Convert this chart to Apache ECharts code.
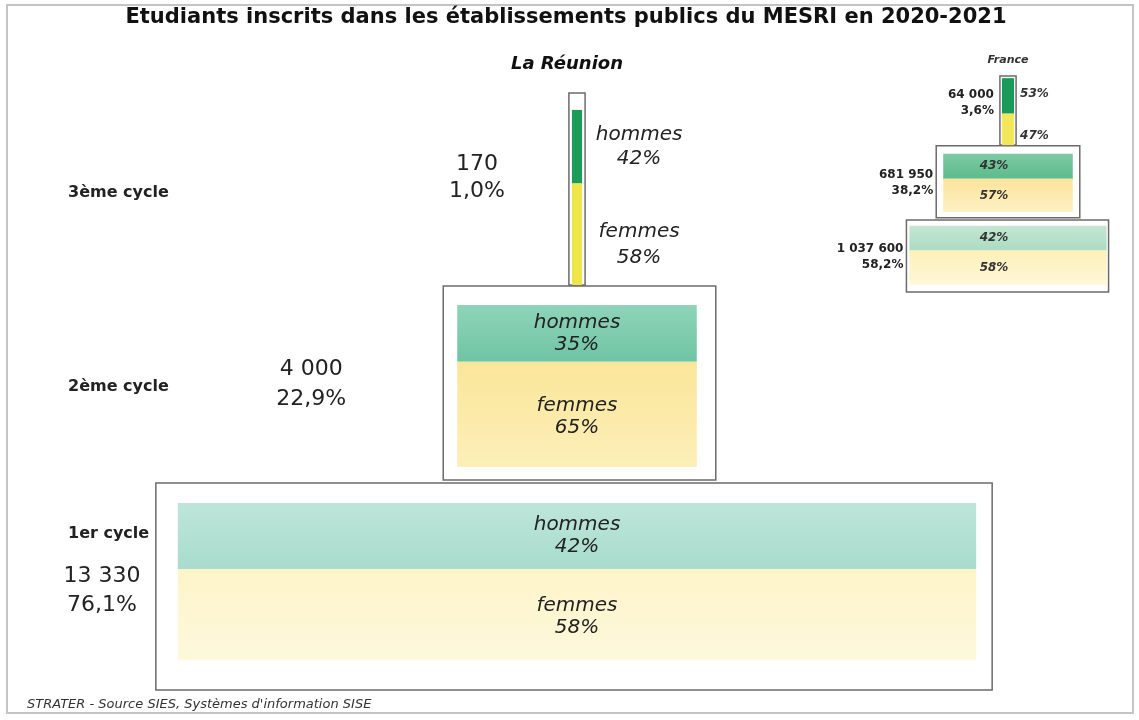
<!DOCTYPE html>
<html>
<head>
<meta charset="utf-8">
<title>Etudiants inscrits - La Réunion</title>
<script src="https://cdn.jsdelivr.net/npm/echarts@6/dist/echarts.min.js"></script>
<style>
    html, body { margin: 0; padding: 0; background: #fff; }
    #chart { width: 1139px; height: 720px; }
</style>
</head>
<body>
<div id="chart"></div>
<script type="text/javascript">
    // La Réunion (du 1er au 3ème cycle)
    var cycles = ['1er cycle', '2ème cycle', '3ème cycle'];
    var effectifs = [13330, 4000, 170];
    var parts = ['76,1%', '22,9%', '1,0%'];
    var hommes = [42, 35, 42];
    var femmes = [58, 65, 58];

    // France (encart)
    var effectifsFr = [1037600, 681950, 64000];
    var partsFr = ['58,2%', '38,2%', '3,6%'];
    var hommesFr = [42, 43, 53];
    var femmesFr = [58, 57, 47];

    var FONT = 'DejaVu Sans, sans-serif';

    function fmt(n) {
        return String(n).replace(/\B(?=(\d{3})+(?!\d))/g, ' ');
    }

    function grad(c1, c2) {
        return new echarts.graphic.LinearGradient(0, 0, 0, 1, [
            {offset: 0, color: c1},
            {offset: 1, color: c2}
        ]);
    }

    function txt(x, y, text, font, align, lh, color) {
        return {
            type: 'text',
            x: x,
            y: y,
            style: {
                text: text,
                font: font,
                fill: color || '#222',
                align: align || 'center',
                verticalAlign: 'middle',
                lineHeight: lh || 22
            }
        };
    }

    // geometry of each box (axis units on y, pixels for paddings)
    var cadres = [
        {frame: [0, 1.04], inner: [0.15, 0.94], pad: [22, 16]},
        {frame: [1.055, 2.03], inner: [1.12, 1.935], pad: [14, 19]},
        {frame: [2.035, 3], inner: [2.035, 2.915], pad: [3, 3]}
    ];
    var cadresFr = [
        {frame: [0, 1], inner: [0.1, 0.92], pad: [3, 2]},
        {frame: [1.03, 2.03], inner: [1.11, 1.92], pad: [7, 7]},
        {frame: [2.04, 3], inner: [2.04, 2.97], pad: [2, 2]}
    ];
    var couleursH = [grad('#bde6d9', '#a8dccc'), grad('#8fd4b9', '#6fc4a4'), '#1d9b58'];
    var couleursF = [grad('#fdf4c8', '#fef8dc'), grad('#fae69a', '#fcefb8'), '#efe548'];
    var couleursHFr = [grad('#c4e6d2', '#abdcc2'), grad('#7ccaa2', '#5cbb8c'), '#1a9a5a'];
    var couleursFFr = [grad('#fdf0b8', '#fef7d8'), grad('#fbe49c', '#fdf0c2'), '#f3e65a'];

    function boite(api, i, n, h, f, cadre, colH, colF) {
        var c = cadre[i];
        var tl = api.coord([-n / 2, c.inner[1]]);
        var br = api.coord([n / 2, c.inner[0]]);
        var ySplit = tl[1] + (br[1] - tl[1]) * h / (h + f);
        var fTop = api.coord([0, c.frame[1]])[1];
        var fBot = api.coord([0, c.frame[0]])[1];
        var g = {
            x0: tl[0], x1: br[0], yTop: tl[1], yBot: br[1], ySplit: ySplit,
            fx0: tl[0] - c.pad[0], fx1: br[0] + c.pad[1], fTop: fTop, fBot: fBot
        };
        g.shapes = [
            {
                type: 'rect',
                shape: {x: g.fx0, y: fTop, width: g.fx1 - g.fx0, height: fBot - fTop},
                style: {fill: '#fff', stroke: '#6b6b6b', lineWidth: 1.5}
            },
            {
                type: 'rect',
                shape: {x: tl[0], y: tl[1], width: br[0] - tl[0], height: ySplit - tl[1]},
                style: {fill: colH[i]}
            },
            {
                type: 'rect',
                shape: {x: tl[0], y: ySplit, width: br[0] - tl[0], height: br[1] - ySplit},
                style: {fill: colF[i]}
            }
        ];
        return g;
    }

    function renderReunion(params, api) {
        var i = api.value(0);
        var g = boite(api, i, effectifs[i], hommes[i], femmes[i], cadres, couleursH, couleursF);
        var kids = g.shapes;
        var fMid = (g.fTop + g.fBot) / 2;
        var hMid = (g.yTop + g.ySplit) / 2;
        var wMid = (g.ySplit + g.yBot) / 2;
        var cx = (g.x0 + g.x1) / 2;
        var bold = 'bold 16px ' + FONT;
        var big = '22px ' + FONT;
        var ital = 'italic 20px ' + FONT;
        var valeur = fmt(effectifs[i]) + '\n' + parts[i];
        if (i === 0) {
            kids.push(txt(68, hMid - 2, cycles[i], bold, 'left'));
            kids.push(txt(102, hMid + 55, valeur, big, 'center', 29));
        } else if (i === 1) {
            kids.push(txt(68, fMid + 4, cycles[i], bold, 'left'));
            kids.push(txt(g.fx0 - 132, fMid + 1, valeur, big, 'center', 30));
        } else {
            kids.push(txt(68, fMid + 4, cycles[i], bold, 'left'));
            kids.push(txt(g.x0 - 95, fMid - 11, valeur, big, 'center', 27));
        }
        if (i < 2) {
            kids.push(txt(cx, hMid, 'hommes\n' + hommes[i] + '%', ital, 'center', 22));
            kids.push(txt(cx, wMid + 2, 'femmes\n' + femmes[i] + '%', ital, 'center', 22));
        } else {
            kids.push(txt(g.x1 + 57, hMid, 'hommes\n' + hommes[i] + '%', ital, 'center', 24));
            kids.push(txt(g.x1 + 57, wMid + 11, 'femmes\n' + femmes[i] + '%', ital, 'center', 26));
        }
        return {type: 'group', children: kids};
    }

    function renderFrance(params, api) {
        var i = api.value(0);
        var g = boite(api, i, effectifsFr[i], hommesFr[i], femmesFr[i], cadresFr, couleursHFr, couleursFFr);
        var kids = g.shapes;
        var hMid = (g.yTop + g.ySplit) / 2;
        var wMid = (g.ySplit + g.yBot) / 2;
        var cx = (g.x0 + g.x1) / 2;
        var b = 'bold 12px ' + FONT;
        var bi = 'italic bold 12px ' + FONT;
        var valeur = fmt(effectifsFr[i]) + '\n' + partsFr[i];
        if (i < 2) {
            kids.push(txt(g.fx0 - 3, (g.fTop + g.fBot) / 2 + 1, valeur, b, 'right', 16));
            kids.push(txt(cx - 14, hMid, hommesFr[i] + '%', bi, 'center', 14, '#333'));
            kids.push(txt(cx - 14, wMid, femmesFr[i] + '%', bi, 'center', 14, '#333'));
        } else {
            kids.push(txt(g.fx0 - 6, (g.fTop + g.fBot) / 2 - 8, valeur, b, 'right', 16));
            kids.push(txt(g.x1 + 6, hMid - 2, hommesFr[i] + '%', bi, 'left', 14, '#333'));
            kids.push(txt(g.x1 + 6, wMid + 6, femmesFr[i] + '%', bi, 'left', 14, '#333'));
            kids.push(txt(cx, g.fTop - 16, 'France', 'italic bold 11px ' + FONT, 'center', 14, '#333'));
        }
        return {type: 'group', children: kids};
    }

    var myChart = echarts.init(document.getElementById('chart'), null, {renderer: 'canvas'});

    var option = {
        animation: false,
        backgroundColor: '#fff',
        grid: [
            {left: 38, width: 1078, top: 93, height: 597},
            {left: 894, width: 228, top: 76, height: 216}
        ],
        xAxis: [
            {type: 'value', gridIndex: 0, min: -9000, max: 9000, show: false},
            {type: 'value', gridIndex: 1, min: -600000, max: 600000, show: false}
        ],
        yAxis: [
            {type: 'value', gridIndex: 0, min: 0, max: 3, show: false},
            {type: 'value', gridIndex: 1, min: 0, max: 3, show: false}
        ],
        graphic: [
            {
                type: 'rect', z: -1, silent: true,
                shape: {x: 7, y: 5, width: 1126, height: 708},
                style: {fill: 'none', stroke: '#c4c4c4', lineWidth: 2}
            },
            {
                type: 'text', x: 566, y: 18,
                style: {
                    text: 'Etudiants inscrits dans les établissements publics du MESRI en 2020-2021',
                    font: 'bold 21px ' + FONT, fill: '#111', align: 'center', verticalAlign: 'middle'
                }
            },
            {
                type: 'text', x: 567, y: 64,
                style: {
                    text: 'La Réunion',
                    font: 'italic bold 18px ' + FONT, fill: '#111', align: 'center', verticalAlign: 'middle'
                }
            },
            {
                type: 'text', x: 27, y: 705,
                style: {
                    text: "STRATER - Source SIES, Systèmes d'information SISE",
                    font: 'italic 13px ' + FONT, fill: '#333', align: 'left', verticalAlign: 'middle'
                }
            }
        ],
        series: [
            {
                type: 'custom',
                name: 'La Réunion',
                xAxisIndex: 0,
                yAxisIndex: 0,
                clip: false,
                renderItem: renderReunion,
                data: cycles.map(function (c, idx) { return [idx]; })
            },
            {
                type: 'custom',
                name: 'France',
                xAxisIndex: 1,
                yAxisIndex: 1,
                clip: false,
                renderItem: renderFrance,
                data: effectifsFr.map(function (c, idx) { return [idx]; })
            }
        ]
    };

    myChart.setOption(option);
</script>
</body>
</html>
